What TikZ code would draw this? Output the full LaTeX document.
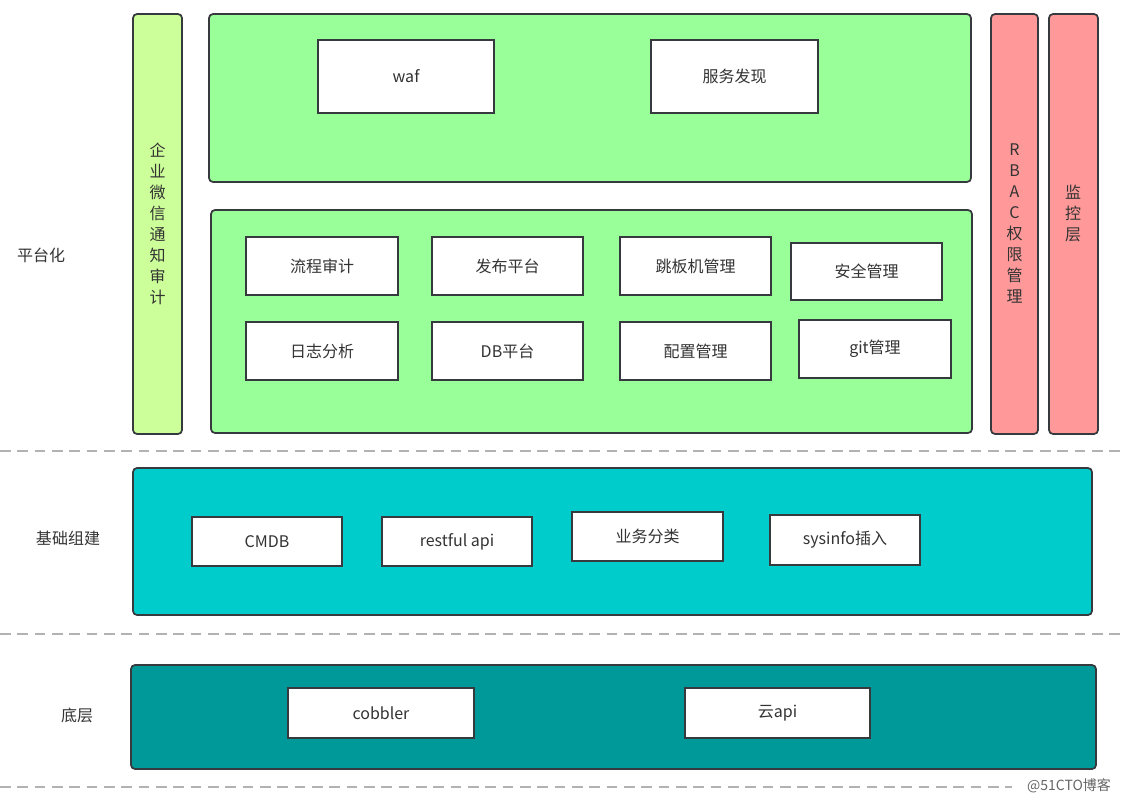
\documentclass[tikz,border=0pt]{standalone}
\usepackage{fontspec}
\setmainfont{Noto Sans CJK SC}
\usetikzlibrary{fit}
\definecolor{edge}{HTML}{36393D}
\definecolor{txt}{HTML}{333333}
\definecolor{wxfill}{HTML}{CCFF99}
\definecolor{pffill}{HTML}{99FF99}
\definecolor{rbfill}{HTML}{FF9999}
\definecolor{jcfill}{HTML}{00CCCC}
\definecolor{dcfill}{HTML}{009999}
\tikzset{
  layer/.style={draw=edge, line width=1.3pt, rounded corners=3pt, inner sep=0pt},
  item/.style={draw=edge, fill=white, line width=1.5pt, inner sep=0pt,
    label={[text=txt]center:#1}},
  tag/.style={text=txt},
  sep/.style={draw=black!30, line width=1.1pt, dash pattern=on 8pt off 5pt},
  vtext/.style={text=txt, align=center, font=\fontsize{12}{15.75}\selectfont},
}
\begin{document}
\begin{tikzpicture}[x=0.75pt, y=-0.75pt, font=\fontsize{12}{14}\selectfont]
  \useasboundingbox[fill=white] (0,0) rectangle (1127,801);

  % separators
  \draw[sep] (0,451) -- (1127,451);
  \draw[sep] (0,634) -- (1127,634);
  \draw[sep] (0,787) -- (1012,787);
  \node[text=black!60, font=\fontsize{10.5}{12}\selectfont] (mark) at (1069,786) {@51CTO博客};

  % layer names
  \node[tag] (pt) at (41,255) {平台化};
  \node[tag] (jc) at (68,538) {基础组建};
  \node[tag] (dc) at (77,715) {底层};

  % platform layer
  \node[layer, fill=wxfill, fit={(133,14) (182,434)}] (wx) {};
  \node[vtext] (wxt) at (wx.center) {企\\业\\微\\信\\通\\知\\审\\计};
  \node[layer, fill=pffill, fit={(209,14) (971,182)}] (top) {};
  \node[item=waf, fit={(318,40) (494,113)}] (waf) {};
  \node[item=服务发现, fit={(651,40) (818,113)}] (fwfx) {};
  \node[layer, fill=pffill, fit={(211,210) (972,433)}] (tools) {};
  \node[item=流程审计, fit={(246,237) (398,295)}] (lcsj) {};
  \node[item=发布平台, fit={(432,237) (583,295)}] (fbpt) {};
  \node[item=跳板机管理, fit={(620,237) (771,295)}] (tbj) {};
  \node[item=安全管理, fit={(791,243) (942,300)}] (aqgl) {};
  \node[item=日志分析, fit={(246,322) (398,380)}] (rzfx) {};
  \node[item=DB平台, fit={(432,322) (583,380)}] (db) {};
  \node[item=配置管理, fit={(620,322) (771,380)}] (pzgl) {};
  \node[item=git管理, fit={(799,320) (951,378)}] (git) {};
  \node[layer, fill=rbfill, fit={(991,14) (1038,434)}] (rbac) {};
  \node[vtext] (rbact) at (rbac.center) {R\\B\\A\\C\\权\\限\\管\\理};
  \node[layer, fill=rbfill, fit={(1049,14) (1098,434)}] (jk) {};
  \node[vtext] (jkt) at (1073,213) {监\\控\\层};

  % base components
  \node[layer, fill=jcfill, fit={(133,468) (1092,615)}] (base) {};
  \node[item=CMDB, fit={(192,517) (342,566)}] (cmdb) {};
  \node[item=restful api, fit={(382,517) (532,566)}] (rest) {};
  \node[item=业务分类, fit={(572,512) (723,561)}] (ywfl) {};
  \node[item=sysinfo插入, fit={(770,515) (920,565)}] (sys) {};

  % bottom layer
  \node[layer, fill=dcfill, fit={(131,665) (1096,769)}] (bot) {};
  \node[item=cobbler, fit={(288,688) (474,738)}] (cob) {};
  \node[item=云api, fit={(685,688) (870,738)}] (yun) {};
\end{tikzpicture}
\end{document}
